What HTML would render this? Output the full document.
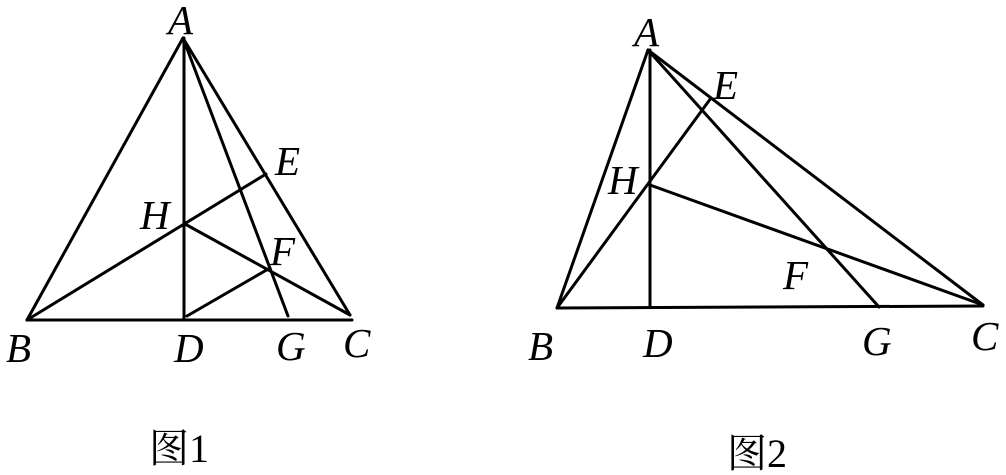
<!DOCTYPE html>
<html><head><meta charset="utf-8"><style>
html,body{margin:0;padding:0;background:#fff;}
svg{display:block}
.l{font-family:"Liberation Serif",serif;font-style:italic;font-size:41px;fill:#000}
.c{font-family:"Liberation Serif","Noto Serif CJK SC",serif;font-size:40px;fill:#000}
</style></head><body>
<svg width="1006" height="475" viewBox="0 0 1006 475" xmlns="http://www.w3.org/2000/svg">
<g stroke="#000" stroke-width="3" fill="none" stroke-linecap="round">
<line x1="183" y1="38" x2="27" y2="320"/>
<line x1="183" y1="38" x2="350" y2="315"/>
<line x1="27" y1="320" x2="352" y2="320"/>
<line x1="184" y1="38" x2="184" y2="320"/>
<line x1="183" y1="38" x2="288" y2="316"/>
<line x1="27" y1="320" x2="266" y2="174"/>
<line x1="185" y1="224" x2="350" y2="315"/>
<line x1="187" y1="316" x2="270" y2="268"/>

<line x1="648" y1="50" x2="557" y2="308"/>
<line x1="648" y1="50" x2="983" y2="305"/>
<line x1="557" y1="308" x2="983" y2="306"/>
<line x1="650" y1="50" x2="650" y2="307"/>
<line x1="648" y1="50" x2="879" y2="307"/>
<line x1="557" y1="308" x2="711" y2="98"/>
<line x1="650" y1="185" x2="983" y2="305"/>
</g>
<text class="l" x="168" y="34">A</text>
<text class="l" x="6" y="362">B</text>
<text class="l" x="174" y="362">D</text>
<text class="l" x="276" y="360">G</text>
<text class="l" x="343" y="357">C</text>
<text class="l" x="275" y="175">E</text>
<text class="l" x="140" y="229">H</text>
<text class="l" x="270" y="265">F</text>

<text class="l" x="634" y="46">A</text>
<text class="l" x="713" y="99">E</text>
<text class="l" x="608" y="194">H</text>
<text class="l" x="783" y="289">F</text>
<text class="l" x="528" y="360">B</text>
<text class="l" x="643" y="357">D</text>
<text class="l" x="862" y="355">G</text>
<text class="l" x="971" y="350">C</text>

<text class="c" x="149" y="462">图1</text>
<text class="c" x="727" y="467">图2</text>
</svg>
</body></html>
